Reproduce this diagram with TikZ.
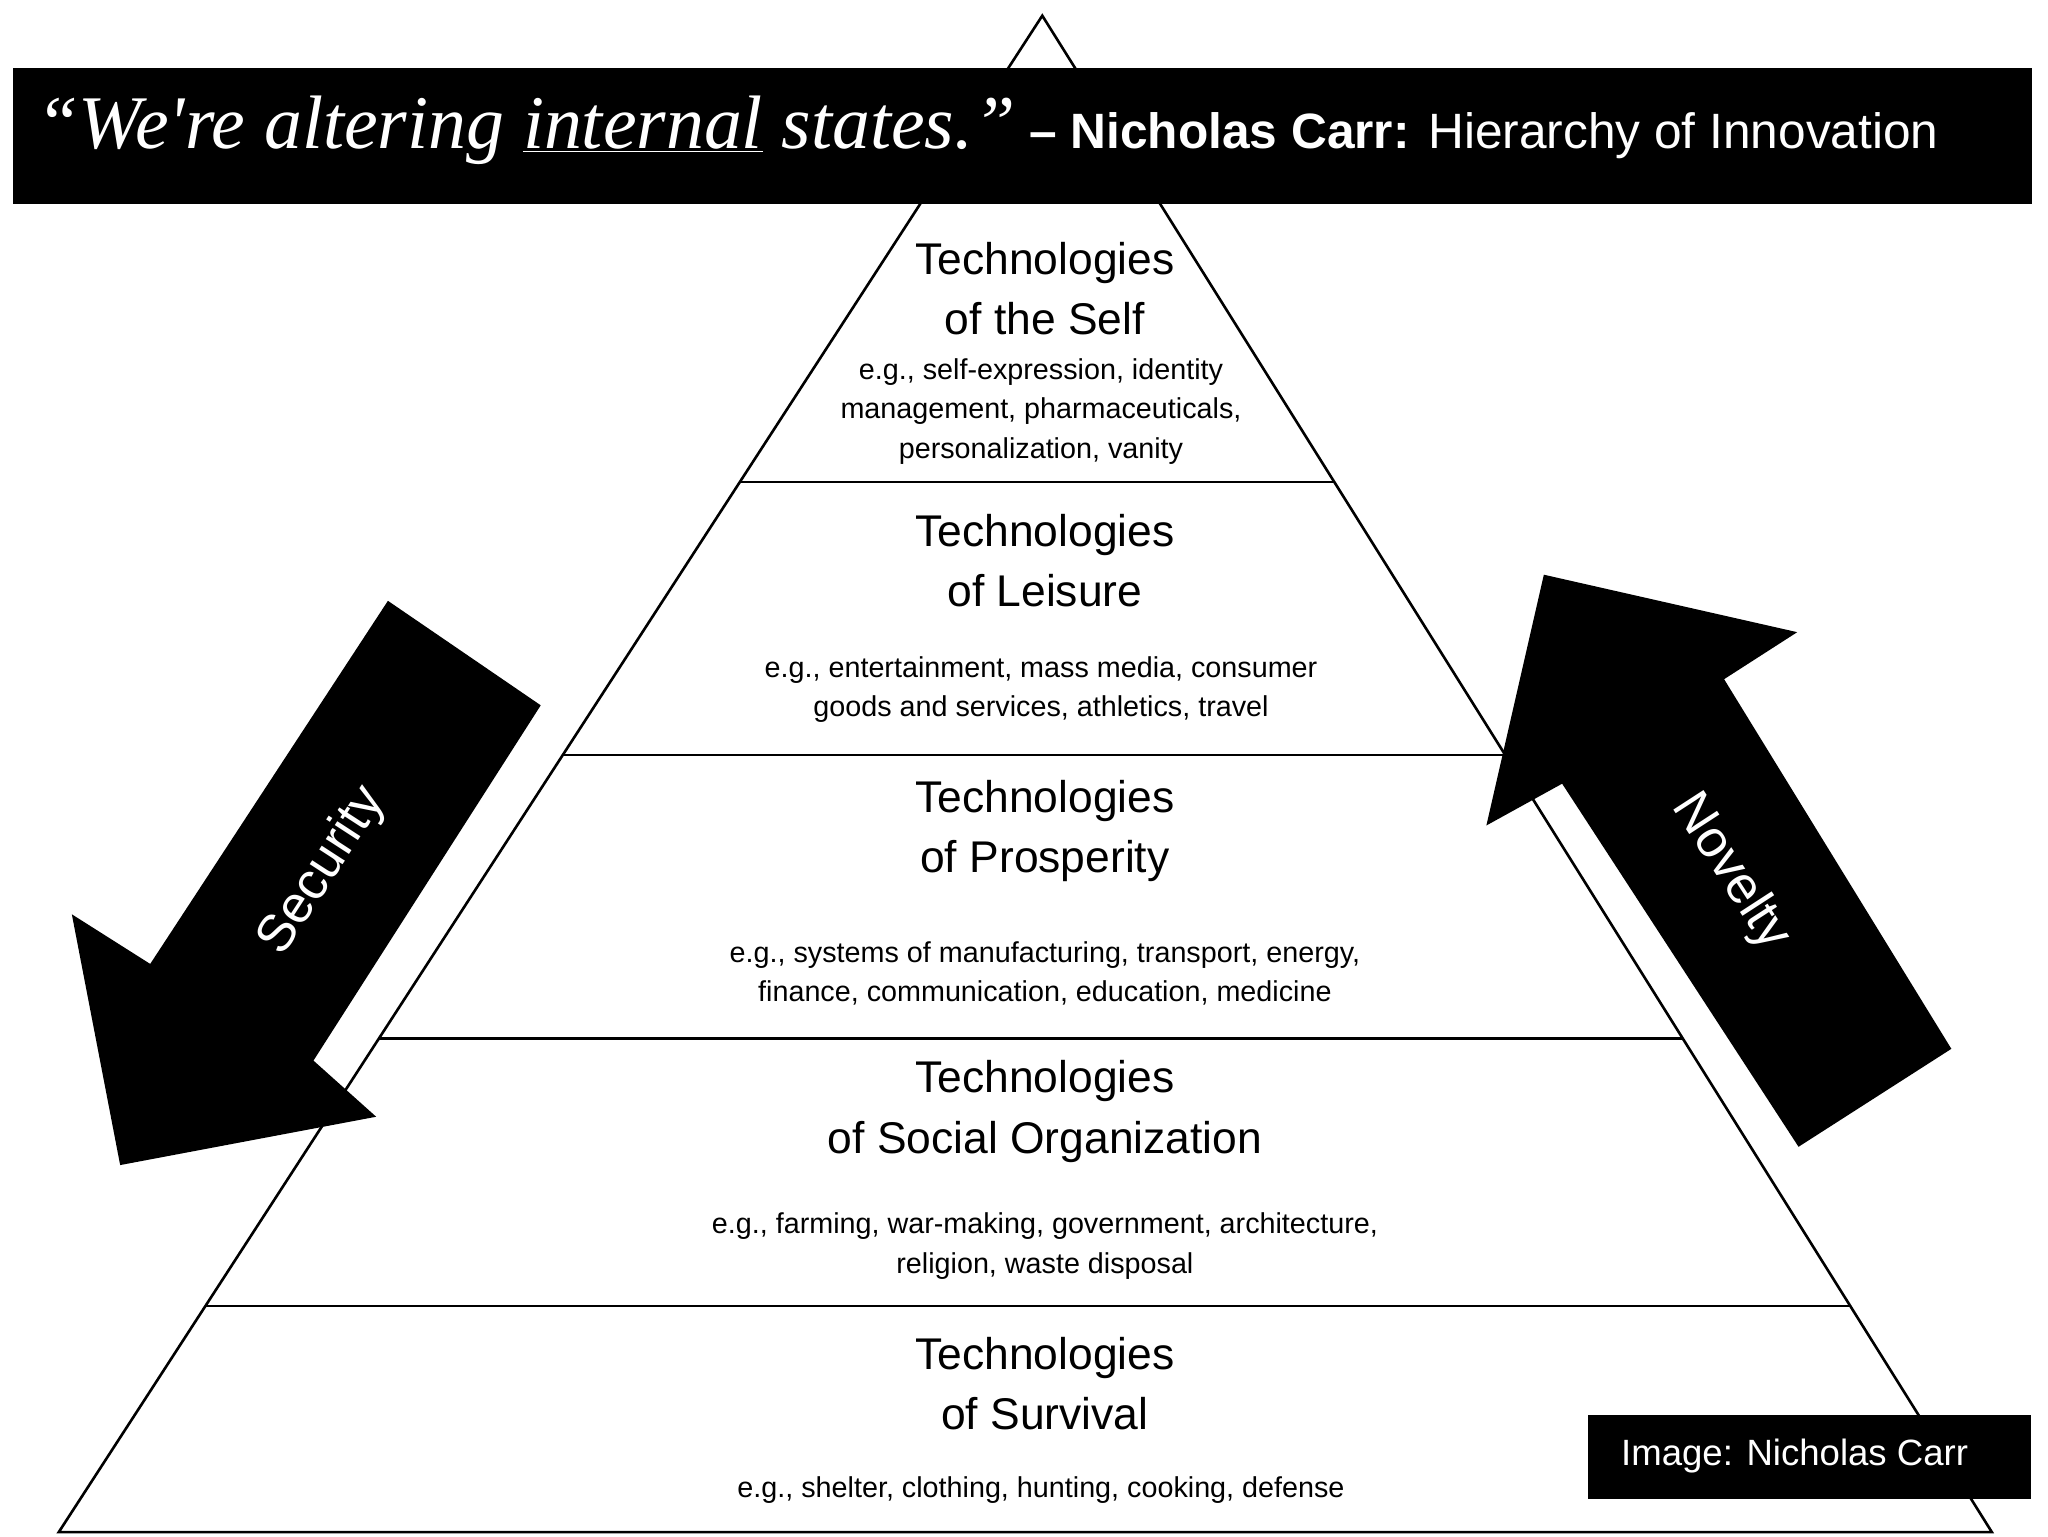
\documentclass[tikz,border=0pt]{standalone}
\usepackage{fontspec}
\setmainfont{Liberation Sans}
\newfontfamily\serifit{Liberation Serif}
\usetikzlibrary{calc}
\begin{document}
\begin{tikzpicture}[x=1pt,y=-1pt,
 head/.style={align=center,font=\fontsize{34}{46}\selectfont},
 sub/.style={align=center,font=\fontsize{22}{30}\selectfont},
 blk/.style={fill=black,draw=none}]
\useasboundingbox (0,0) rectangle (1568,1176);
\coordinate (apex) at (798,12);
\coordinate (bl) at (45,1173);
\coordinate (br) at (1525,1173);
\draw[line width=2pt] (apex) -- (bl) -- (br) -- cycle;
\foreach \y in {369,578,795,1000}{
 \pgfmathsetmacro\t{(\y-12)/1161}
 \draw[line width=2pt] ($(apex)!\t!(bl)$) -- ($(apex)!\t!(br)$);
}
\node[head] (h1) at (800,221) {Technologies\\of the Self};
\node[sub] (s1) at (797,315) {e.g., self-expression, identity\\management, pharmaceuticals,\\personalization, vanity};
\node[head] (h2) at (800,429) {Technologies\\of Leisure};
\node[sub] (s2) at (797,528) {e.g., entertainment, mass media, consumer\\goods and services, athletics, travel};
\node[head] (h3) at (800,636) {Technologies\\of Prosperity};
\node[sub] (s3) at (800,745) {e.g., systems of manufacturing, transport, energy,\\finance, communication, education, medicine};
\node[head] (h4) at (800,851) {Technologies\\of Social Organization};
\node[sub] (s4) at (800,954) {e.g., farming, war-making, government, architecture,\\religion, waste disposal};
\node[head] (h5) at (800,1059) {Technologies\\of Survival};
\node[sub] (s5) at (797,1141) {e.g., shelter, clothing, hunting, cooking, defense};
% title bar
\fill[black] (10,52) rectangle (1556,156);
\node[anchor=west,text=white,inner sep=0] (title) at (28,100) {{\serifit\itshape\fontsize{58}{62}\selectfont “We're altering \underline{internal} states.”}\fontsize{38}{44}\selectfont\ \textbf{– Nicholas Carr:} Hierarchy of Innovation};
% security arrow
\fill[black] (297,460) -- (414,540) -- (240,812) -- (288,855) -- (92,892) -- (55,700) -- (115,738) -- cycle;
\node[text=white,rotate=57,font=\fontsize{40}{40}\selectfont] (sec) at (247,667) {Security};
% novelty arrow
\fill[black] (1182,440) -- (1376,484) -- (1320,520) -- (1494,803) -- (1377,878) -- (1196,600) -- (1138,632) -- cycle;
\node[text=white,rotate=-57,font=\fontsize{40}{40}\selectfont] (nov) at (1325,668) {Novelty};
% credit
\fill[black] (1216,1083) rectangle (1555,1148);
\node[text=white,font=\fontsize{28}{32}\selectfont] (cred) at (1374,1115) {Image: Nicholas Carr};
\end{tikzpicture}
\end{document}
